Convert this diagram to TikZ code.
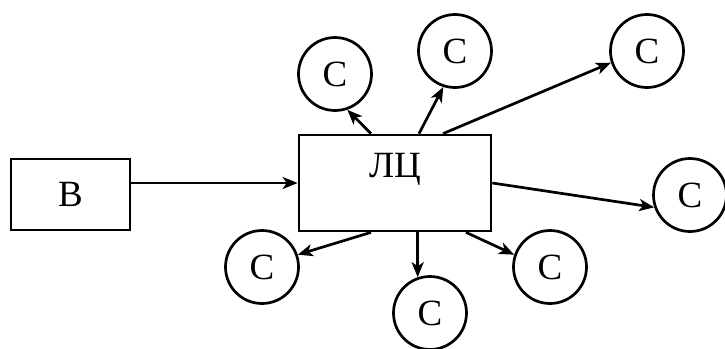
\documentclass[tikz,border=0pt]{standalone}
\usepackage{fontspec}
\setmainfont{Liberation Serif}
\usetikzlibrary{arrows.meta}

\begin{document}
\begin{tikzpicture}[->, x=0.5pt, y=-0.5pt, line width=1.35pt,
    >={Stealth[length=7.5pt,width=6pt,inset=2pt]},
    every node/.style={font=\fontsize{18.5}{22}\selectfont},
    blok/.style={draw, rectangle, inner sep=0pt},
    krug/.style={draw, circle, minimum size=36.5pt, inner sep=0pt}]
  \useasboundingbox (0,0) rectangle (725,349);
  \node[blok, minimum width=59.5pt, minimum height=35.5pt] (V) at (70.5,194.5) {В};
  \node[blok, minimum width=96pt, minimum height=48pt,
        label={[yshift=7pt]center:ЛЦ}] (LC) at (395,183) {};
  \node[krug] (C1) at (335,74)  {С};
  \node[krug] (C2) at (455,51)  {С};
  \node[krug] (C3) at (647,51)  {С};
  \node[krug] (C4) at (690,195) {С};
  \node[krug] (C5) at (262,267) {С};
  \node[krug] (C6) at (430,313) {С};
  \node[krug] (C7) at (550,267) {С};
  \path (LC.west -| V.east)      edge (LC.west)
        ([xshift=-12pt]LC.north) edge (C1.289)
        ([xshift=12pt]LC.north)  edge (C2.252)
        ([xshift=24pt]LC.north)  edge (C3.198)
        (LC.east)                edge (C4.199)
        ([xshift=-12pt]LC.south) edge (C5.19)
        (C6.109 |- LC.south)     edge (C6.109)
        ([xshift=35.5pt]LC.south) edge (C7.161);
\end{tikzpicture}
\end{document}
